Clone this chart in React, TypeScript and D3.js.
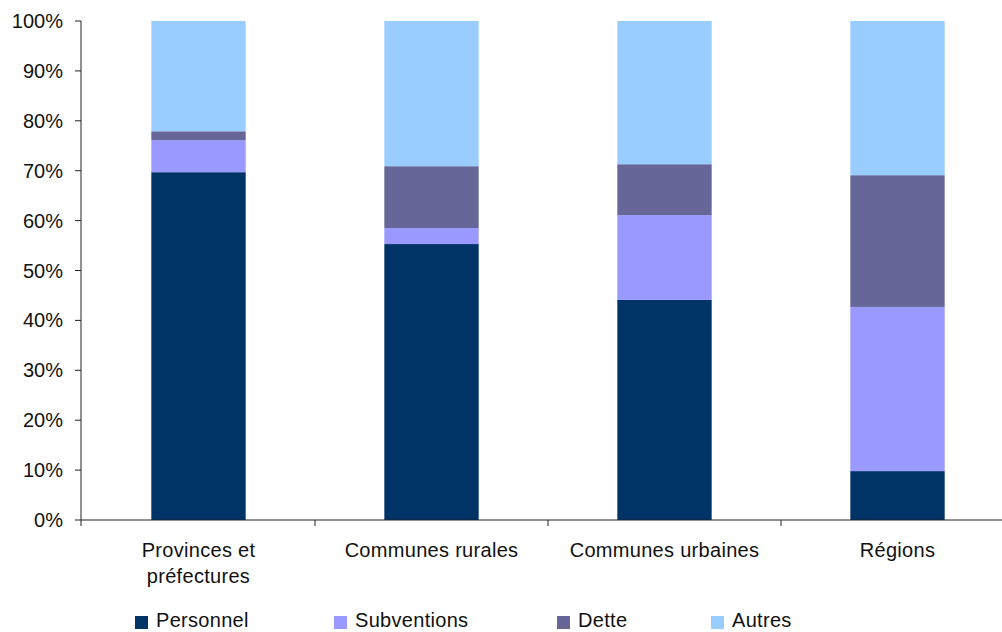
import React from "react";
import * as d3 from "d3";

const categories = ["Provinces et\npréfectures", "Communes rurales", "Communes urbaines", "Régions"];
const seriesNames = ["Personnel", "Subventions", "Dette", "Autres"];
const personnel = [69.7, 55.3, 44.1, 9.8];
const subventions = [6.4, 3.2, 17.0, 32.9];
const dette = [1.8, 12.4, 10.2, 26.4];
const autres = [22.1, 29.1, 28.7, 30.9];
const yTicks = [0, 10, 20, 30, 40, 50, 60, 70, 80, 90, 100];
const colors = ["#003366", "#9999FF", "#666699", "#99CCFF"];

const W = 1002, H = 632;
const FONT = "'Liberation Sans', Arial, sans-serif";

export default function App() {
  const rows = categories.map((c, i) => ({
    cat: c,
    Personnel: personnel[i],
    Subventions: subventions[i],
    Dette: dette[i],
    Autres: autres[i],
  }));
  const stacked = d3.stack<any>().keys(seriesNames)(rows);
  const x = d3.scaleBand().domain(categories).range([82, 1014]).padding(0);
  const y = d3.scaleLinear().domain([0, 100]).range([520, 21]);
  const barW = x.bandwidth() * 0.405;
  const axisX = 81;
  const legendX = [135, 334, 557, 711];

  return (
    <svg width={W} height={H} style={{ position: "absolute", left: 0, top: 0, background: "#fff" }} fontFamily={FONT}>
      {stacked.map((s, si) => (
        <g key={s.key} fill={colors[si]}>
          {s.map((d, i) => {
            const cx = (x(categories[i]) as number) + x.bandwidth() / 2;
            return (
              <rect key={i} x={cx - barW / 2} y={y(d[1])} width={barW} height={y(d[0]) - y(d[1])} />
            );
          })}
        </g>
      ))}
      {/* y axis */}
      <line x1={axisX} x2={axisX} y1={y(100)} y2={y(0) + 6} stroke="#222" strokeWidth={1} />
      {yTicks.map((t) => (
        <g key={t}>
          <line x1={axisX - 6} x2={axisX} y1={y(t)} y2={y(t)} stroke="#222" />
          <text x={63} y={y(t) + 7} textAnchor="end" fontSize={20} fill="#111">{t}%</text>
        </g>
      ))}
      {/* x axis */}
      <line x1={axisX} x2={W} y1={y(0)} y2={y(0)} stroke="#222" />
      {categories.slice(1).map((c) => (
        <line key={c} x1={x(c) as number} x2={x(c) as number} y1={y(0)} y2={y(0) + 6} stroke="#222" />
      ))}
      {categories.map((c) => {
        const cx = (x(c) as number) + x.bandwidth() / 2;
        const lines = c.split("\n");
        return (
          <text key={c} x={cx} y={557} textAnchor="middle" fontSize={20} fill="#111" letterSpacing={0.3}>
            {lines.map((l, li) => (
              <tspan key={li} x={cx} dy={li === 0 ? 0 : 26}>{l}</tspan>
            ))}
          </text>
        );
      })}
      {/* legend */}
      {seriesNames.map((n, i) => (
        <g key={n}>
          <rect x={legendX[i]} y={616} width={13} height={13} fill={colors[i]} />
          <text x={legendX[i] + 21} y={627} fontSize={20} fill="#111" letterSpacing={0.3}>{n}</text>
        </g>
      ))}
    </svg>
  );
}
